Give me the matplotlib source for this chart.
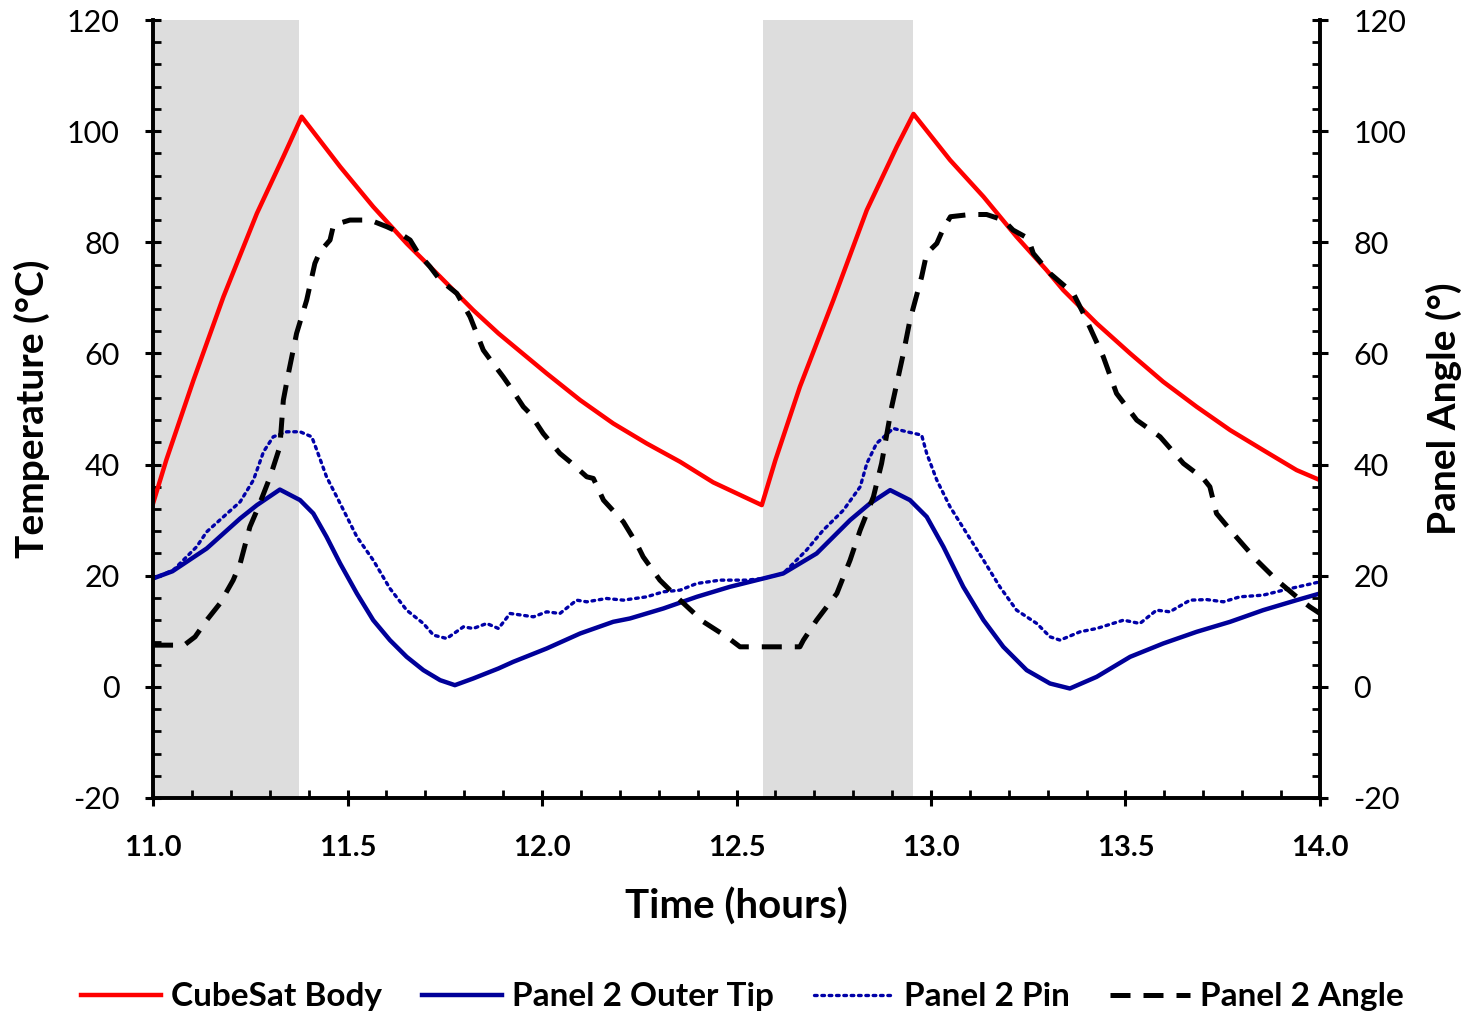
import matplotlib
matplotlib.use("Agg")
import matplotlib.pyplot as plt
from matplotlib.ticker import MultipleLocator, FormatStrFormatter

plt.rcParams['font.family'] = ['Lato', 'DejaVu Sans']
plt.rcParams['axes.unicode_minus'] = False

# eclipse (shaded) windows, hours
shade_start = [11.0, 12.569]
shade_end = [11.375, 12.953]

# CubeSat body temperature
body_t = [11.0, 11.034, 11.104, 11.181, 11.267, 11.335, 11.382, 11.481, 11.566, 11.652,
          11.738, 11.823, 11.888, 12.012, 12.098, 12.183, 12.269, 12.355, 12.44, 12.565,
          12.6, 12.663, 12.749, 12.835, 12.912, 12.955, 13.049, 13.135, 13.22, 13.297,
          13.34, 13.426, 13.512, 13.597, 13.683, 13.769, 13.854, 13.94, 14.0]
body_v = [33.0, 40.8, 55.2, 70.2, 85.2, 95.4, 102.6, 93.6, 86.4, 79.8,
          73.8, 67.8, 63.6, 56.4, 51.6, 47.4, 43.8, 40.5, 36.8, 32.7,
          40.8, 54.0, 69.6, 85.8, 97.2, 103.1, 94.8, 88.2, 81.0, 75.0,
          71.4, 65.4, 60.0, 54.9, 50.4, 46.2, 42.6, 39.0, 37.2]

# panel 2 outer tip temperature
tip_t = [11.0, 11.05, 11.138, 11.224, 11.267, 11.326, 11.378, 11.412, 11.446, 11.481,
         11.524, 11.566, 11.609, 11.652, 11.695, 11.738, 11.776, 11.823, 11.888, 11.926,
         12.012, 12.098, 12.183, 12.226, 12.312, 12.398, 12.483, 12.569, 12.62, 12.706,
         12.792, 12.843, 12.895, 12.946, 12.989, 13.032, 13.083, 13.135, 13.186, 13.246,
         13.306, 13.357, 13.426, 13.512, 13.597, 13.683, 13.769, 13.854, 13.94, 14.0]
tip_v = [19.5, 20.8, 24.9, 30.3, 32.7, 35.5, 33.6, 31.2, 27.0, 22.2,
         16.8, 12.0, 8.4, 5.4, 3.0, 1.2, 0.3, 1.5, 3.3, 4.5,
         6.9, 9.6, 11.7, 12.3, 14.1, 16.2, 18.0, 19.5, 20.4, 24.0,
         30.0, 33.0, 35.4, 33.6, 30.6, 25.2, 18.0, 12.0, 7.2, 3.0,
         0.6, -0.3, 1.8, 5.4, 7.8, 9.9, 11.7, 13.8, 15.6, 16.8]

# panel 2 pin temperature
pin_t = [11.0, 11.052, 11.112, 11.138, 11.181, 11.224, 11.258, 11.284, 11.309, 11.344,
         11.378, 11.408, 11.421, 11.446, 11.481, 11.524, 11.566, 11.609, 11.652, 11.695,
         11.721, 11.755, 11.798, 11.823, 11.858, 11.888, 11.918, 11.978, 12.012, 12.046,
         12.089, 12.115, 12.166, 12.209, 12.269, 12.312, 12.355, 12.398, 12.458, 12.526,
         12.569, 12.62, 12.68, 12.723, 12.775, 12.818, 12.835, 12.86, 12.903, 12.938,
         12.976, 12.989, 13.015, 13.049, 13.092, 13.135, 13.177, 13.22, 13.272, 13.306,
         13.332, 13.383, 13.426, 13.495, 13.537, 13.58, 13.614, 13.666, 13.709, 13.752,
         13.794, 13.854, 13.906, 14.0]
pin_v = [19.5, 21.0, 25.2, 27.9, 30.6, 33.3, 37.2, 42.3, 45.0, 45.9,
         45.9, 45.0, 42.6, 37.8, 33.0, 27.0, 22.8, 17.7, 13.8, 11.4,
         9.3, 8.7, 10.8, 10.5, 11.4, 10.5, 13.2, 12.6, 13.5, 13.2,
         15.6, 15.3, 15.9, 15.6, 16.2, 17.1, 17.4, 18.6, 19.2, 19.2,
         19.5, 20.4, 24.6, 28.2, 31.8, 36.0, 40.2, 43.8, 46.5, 45.9,
         45.3, 42.0, 37.2, 32.4, 27.6, 22.8, 18.0, 13.8, 11.4, 9.0,
         8.4, 9.9, 10.5, 12.0, 11.4, 13.8, 13.5, 15.6, 15.7, 15.3,
         16.2, 16.5, 17.4, 18.9]

# panel 2 angle (deg, right axis)
ang_t = [11.0, 11.08, 11.108, 11.138, 11.172, 11.206, 11.224, 11.249, 11.271, 11.301,
         11.326, 11.335, 11.348, 11.369, 11.395, 11.416, 11.429, 11.455, 11.464, 11.506,
         11.558, 11.601, 11.626, 11.661, 11.682, 11.712, 11.738, 11.781, 11.815, 11.849,
         11.871, 11.9, 11.918, 11.952, 11.969, 12.003, 12.046, 12.072, 12.115, 12.132,
         12.158, 12.209, 12.243, 12.26, 12.303, 12.355, 12.415, 12.475, 12.509, 12.56,
         12.663, 12.672, 12.706, 12.758, 12.792, 12.818, 12.852, 12.873, 12.899, 12.929,
         12.946, 12.976, 12.989, 13.015, 13.03, 13.05, 13.1, 13.143, 13.186, 13.211,
         13.25, 13.263, 13.306, 13.366, 13.396, 13.443, 13.477, 13.529, 13.589, 13.649,
         13.7, 13.717, 13.734, 13.777, 13.837, 13.889, 13.94, 13.974, 14.0]
ang_v = [7.5, 7.5, 9.0, 12.0, 15.0, 19.2, 22.2, 28.8, 32.4, 37.8,
         43.2, 51.6, 56.4, 63.6, 69.6, 76.2, 78.3, 80.4, 83.1, 84.0,
         84.0, 82.8, 82.0, 80.4, 78.0, 75.6, 73.2, 70.8, 66.6, 60.6,
         58.5, 55.8, 54.0, 50.4, 49.2, 45.6, 42.0, 40.5, 37.8, 37.5,
         33.6, 29.7, 25.8, 23.4, 19.2, 15.6, 11.7, 9.0, 7.2, 7.2,
         7.2, 8.4, 12.0, 16.8, 22.8, 28.2, 34.2, 40.2, 50.4, 60.0,
         66.0, 73.8, 78.0, 79.8, 82.2, 84.6, 85.0, 85.0, 84.0, 82.2,
         80.7, 78.0, 74.4, 70.8, 66.6, 59.4, 52.8, 48.0, 45.0, 40.2,
         37.5, 36.0, 31.2, 27.6, 22.8, 19.2, 16.2, 14.4, 13.2]

fig = plt.figure(figsize=(14.73, 10.16), dpi=100)
ax = fig.add_axes([0.1039, 0.2146, 0.7922, 0.7657])
ax2 = ax.twinx()

for s, e in zip(shade_start, shade_end):
    ax.axvspan(s, e, color='#DDDDDD', lw=0, zorder=0)

l1, = ax.plot(body_t, body_v, color='#FF0000', lw=3.2, label='CubeSat Body')
l2, = ax.plot(tip_t, tip_v, color='#000099', lw=3.2, label='Panel 2 Outer Tip')
l3, = ax.plot(pin_t, pin_v, color='#0000A8', lw=2.4, linestyle=(0, (0.8, 1.4)),
              dash_capstyle='round', label='Panel 2 Pin')
l4, = ax2.plot(ang_t, ang_v, color='black', lw=3.6, linestyle=(0, (4, 2.6)),
               label='Panel 2 Angle')

for a in (ax, ax2):
    a.set_xlim(11.0, 14.0)
    a.set_ylim(-20, 120)
    a.yaxis.set_major_locator(MultipleLocator(20))
    a.yaxis.set_minor_locator(MultipleLocator(4))
    a.spines['top'].set_visible(False)
    for sp in ('left', 'right', 'bottom'):
        a.spines[sp].set_linewidth(2.6)
    a.tick_params(which='major', direction='inout', length=12, width=2.2)
    a.tick_params(which='minor', direction='in', length=6, width=2.0)
    a.tick_params(axis='y', which='major', labelsize=22, pad=18)

ax.xaxis.set_major_locator(MultipleLocator(0.5))
ax.xaxis.set_minor_locator(MultipleLocator(0.1))
ax.xaxis.set_major_formatter(FormatStrFormatter('%.1f'))
ax.tick_params(axis='x', which='major', labelsize=21, pad=21)
for lab in ax.get_xticklabels():
    lab.set_fontweight('bold')
ax.tick_params(axis='y', which='both', right=False)
ax2.tick_params(axis='y', which='both', left=False)

ax.set_xlabel('Time (hours)', fontsize=29, fontweight='bold', labelpad=19)
ax.set_ylabel('Temperature (°C)', fontsize=28, fontweight='bold', labelpad=12)
ax2.set_ylabel('Panel Angle (°)', fontsize=28, fontweight='bold', labelpad=14)

fig.legend(handles=[l1, l2, l3, l4], loc='center', bbox_to_anchor=(0.504, 0.019),
           ncol=4, frameon=False, handlelength=2.4, handletextpad=0.3,
           columnspacing=1.2, prop={'weight': 'bold', 'size': 24})

fig.savefig('out.png', dpi=100)
